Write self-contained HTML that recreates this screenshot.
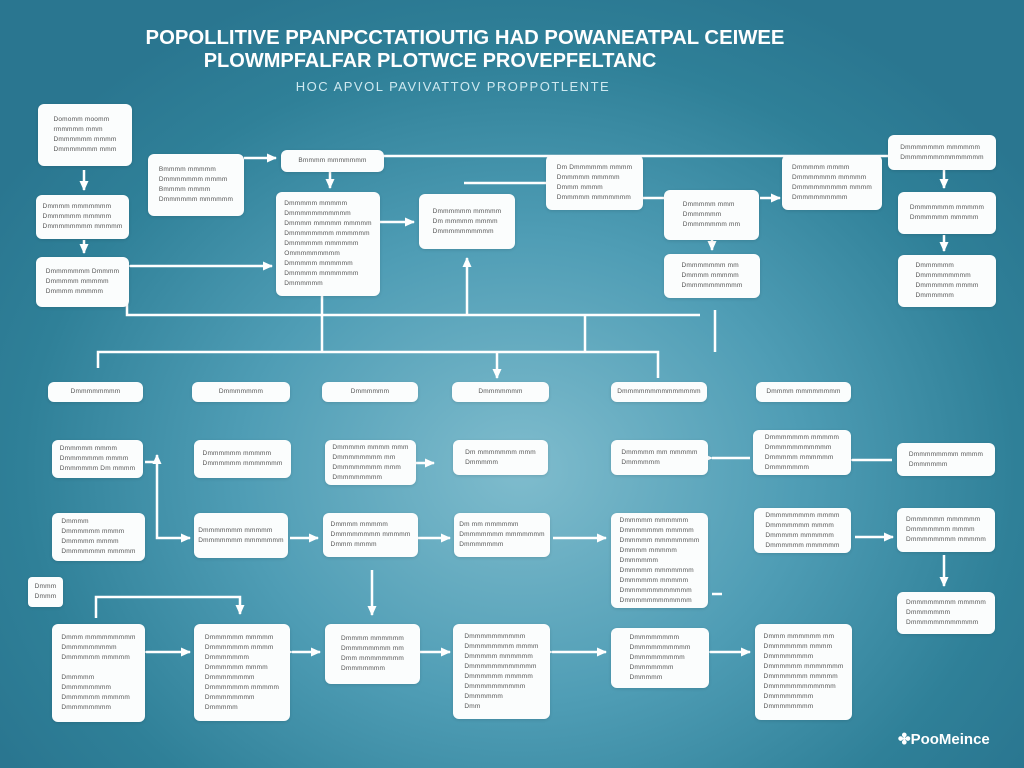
<!DOCTYPE html>
<html><head><meta charset="utf-8"><style>
body{margin:0;width:1024px;height:768px;overflow:hidden;font-family:"Liberation Sans",sans-serif;
background:radial-gradient(ellipse 620px 520px at 520px 470px,#7fbccd 0%,#4f9db5 45%,#2f8098 80%,#2a7690 100%);position:relative}
.b{position:absolute;background:#fbfdfd;border-radius:6px;display:flex;flex-direction:column;justify-content:center;align-items:center;font-size:6.5px;line-height:10px;color:#555;letter-spacing:0.2px;white-space:nowrap;box-shadow:0 1px 3px rgba(0,0,0,.12)}
.t{position:absolute;color:#fff;font-weight:bold;white-space:nowrap;text-align:center;width:1024px;left:0}
svg{position:absolute;left:0;top:0}
</style></head><body>
<div class="t" style="top:27px;font-size:20.3px;left:-47px">POPOLLITIVE PPANPCCTATIOUTIG HAD POWANEATPAL CEIWEE</div>
<div class="t" style="top:50px;font-size:20px;left:-82px">PLOWMPFALFAR PLOTWCE PROVEPFELTANC</div>
<div class="t" style="top:79px;font-size:13px;font-weight:normal;color:#cfe9f0;left:-59px;letter-spacing:1.5px">HOC APVOL PAVIVATTOV PROPPOTLENTE</div>

<svg width="1024" height="768" fill="none" stroke="#fff" stroke-width="2.5">
<defs><marker id="a" markerUnits="userSpaceOnUse" markerWidth="10" markerHeight="10" refX="9" refY="5" orient="auto"><path d="M0,0.5L10,5L0,9.5z" fill="#fff" stroke="none"/></marker></defs>
<path d="M384 156H890"/><path d="M244 158H276" marker-end="url(#a)"/>
<path d="M330 172V188" marker-end="url(#a)"/>
<path d="M464 183H600V170"/>
<path d="M380 222H414" marker-end="url(#a)"/>
<path d="M130 266H272" marker-start="url(#a)" marker-end="url(#a)"/>
<path d="M467 315V258" marker-end="url(#a)"/>
<path d="M84 170V190" marker-end="url(#a)"/>
<path d="M84 240V253" marker-end="url(#a)"/>
<path d="M643 198H664"/><path d="M760 198H780" marker-end="url(#a)"/>
<path d="M712 232V250" marker-end="url(#a)"/>
<path d="M944 170V188" marker-end="url(#a)"/>
<path d="M944 235V251" marker-end="url(#a)"/>
<path d="M127 300V315H700"/><path d="M322 296V352"/><path d="M585 315V352"/><path d="M715 310V352"/>
<path d="M98 368V352H658V378"/><path d="M497 352V378" marker-end="url(#a)"/>
<path d="M145 462H157V455" marker-end="url(#a)"/>
<path d="M157 460V538H190" marker-end="url(#a)"/>
<path d="M416 463H434" marker-end="url(#a)"/>
<path d="M290 538H318" marker-end="url(#a)"/>
<path d="M418 538H450" marker-end="url(#a)"/>
<path d="M553 538H606" marker-end="url(#a)"/>
<path d="M712 458H750" marker-start="url(#a)"/>
<path d="M852 460H892" marker-start="url(#a)"/>
<path d="M855 537H893" marker-end="url(#a)"/>
<path d="M944 555V586" marker-end="url(#a)"/>
<path d="M712 594H722"/>
<path d="M372 570V615" marker-end="url(#a)"/>
<path d="M96 618V597H240V614" marker-end="url(#a)"/>
<path d="M146 652H190" marker-start="url(#a)" marker-end="url(#a)"/>
<path d="M292 652H320" marker-start="url(#a)" marker-end="url(#a)"/>
<path d="M420 652H450" marker-start="url(#a)" marker-end="url(#a)"/>
<path d="M552 652H606" marker-start="url(#a)" marker-end="url(#a)"/>
<path d="M710 652H750" marker-start="url(#a)" marker-end="url(#a)"/>
</svg>

<div class="b" style="left:38px;top:104px;width:94px;height:62px">Domomm moomm<br>rmmmmm mmm<br>Dmmmmmm mmmm<br>Dmmmmmmm mmm</div>
<div class="b" style="left:148px;top:154px;width:96px;height:62px">Bmmmm mmmmm<br>Dmmmmmmm mmmm<br>Bmmmm mmmm<br>Dmmmmmm mmmmmm</div>
<div class="b" style="left:281px;top:150px;width:103px;height:22px">Bmmmm mmmmmmm</div>
<div class="b" style="left:276px;top:192px;width:104px;height:104px">Dmmmmm mmmmm<br>Dmmmmmmmmmmm<br>Dmmmm mmmmm mmmmm<br>Dmmmmmmmm mmmmmm<br>Dmmmmmm mmmmmm<br>Ommmmmmmmm<br>Dmmmmm mmmmmm<br>Dmmmmm mmmmmmm<br>Dmmmmmm</div>
<div class="b" style="left:36px;top:195px;width:93px;height:44px">Dmmmm mmmmmmm<br>Dmmmmmm mmmmm<br>Dmmmmmmmm mmmmm</div>
<div class="b" style="left:36px;top:257px;width:93px;height:50px">Dmmmmmmm Dmmmm<br>Dmmmmm mmmmm<br>Dmmmm mmmmm</div>
<div class="b" style="left:419px;top:194px;width:96px;height:55px">Dmmmmmm mmmmm<br>Dm mmmmm mmmm<br>Dmmmmmmmmmm</div>
<div class="b" style="left:546px;top:155px;width:97px;height:55px">Dm Dmmmmmm mmmm<br>Dmmmmm mmmmm<br>Dmmm mmmm<br>Dmmmmm mmmmmmm</div>
<div class="b" style="left:664px;top:190px;width:95px;height:50px">Dmmmmm mmm<br>Dmmmmmm<br>Dmmmmmmm mm</div>
<div class="b" style="left:664px;top:254px;width:96px;height:44px">Dmmmmmmm mm<br>Dmmmm mmmmm<br>Dmmmmmmmmmm</div>
<div class="b" style="left:782px;top:155px;width:100px;height:55px">Dmmmmm mmmm<br>Dmmmmmmm mmmmm<br>Dmmmmmmmmm mmmm<br>Dmmmmmmmmm</div>
<div class="b" style="left:888px;top:135px;width:108px;height:35px">Dmmmmmmm mmmmmm<br>Dmmmmmmmmmmmmmm</div>
<div class="b" style="left:898px;top:192px;width:98px;height:42px">Dmmmmmmm mmmmm<br>Dmmmmmm mmmmm</div>
<div class="b" style="left:898px;top:255px;width:98px;height:52px">Dmmmmmm<br>Dmmmmmmmmm<br>Dmmmmmm mmmm<br>Dmmmmmm</div>

<div class="b" style="left:48px;top:382px;width:95px;height:20px">Dmmmmmmmm</div>
<div class="b" style="left:192px;top:382px;width:98px;height:20px">Dmmmmmmm</div>
<div class="b" style="left:322px;top:382px;width:96px;height:20px">Dmmmmmm</div>
<div class="b" style="left:452px;top:382px;width:97px;height:20px">Dmmmmmmm</div>
<div class="b" style="left:611px;top:382px;width:96px;height:20px">Dmmmmmmmmmmmmmm</div>
<div class="b" style="left:756px;top:382px;width:95px;height:20px">Dmmmm mmmmmmmm</div>

<div class="b" style="left:52px;top:440px;width:91px;height:38px">Dmmmmm mmmm<br>Dmmmmmmm mmmm<br>Dmmmmmm Dm mmmm</div>
<div class="b" style="left:194px;top:440px;width:97px;height:38px">Dmmmmmm mmmmm<br>Dmmmmmm mmmmmmm</div>
<div class="b" style="left:325px;top:440px;width:91px;height:45px">Dmmmmm mmmm mmm<br>Dmmmmmmmm mm<br>Dmmmmmmmm mmm<br>Dmmmmmmmm</div>
<div class="b" style="left:453px;top:440px;width:95px;height:35px">Dm mmmmmmm mmm<br>Dmmmmm</div>
<div class="b" style="left:611px;top:440px;width:97px;height:35px">Dmmmmm mm mmmmm<br>Dmmmmmm</div>
<div class="b" style="left:753px;top:430px;width:98px;height:45px">Dmmmmmmm mmmmm<br>Dmmmmmmmmmmm<br>Dmmmmm mmmmmm<br>Dmmmmmmm</div>
<div class="b" style="left:897px;top:443px;width:98px;height:33px">Dmmmmmmmm mmmm<br>Dmmmmmm</div>

<div class="b" style="left:52px;top:513px;width:93px;height:48px">Dmmmm<br>Dmmmmmm mmmm<br>Dmmmmm mmmm<br>Dmmmmmmm mmmmm</div>
<div class="b" style="left:194px;top:513px;width:94px;height:45px">Dmmmmmmm mmmmm<br>Dmmmmmmm mmmmmmm</div>
<div class="b" style="left:323px;top:513px;width:95px;height:44px">Dmmmm mmmmm<br>Dmmmmmmmm mmmmm<br>Dmmm mmmm</div>
<div class="b" style="left:454px;top:513px;width:96px;height:44px">Dm mm mmmmmm<br>Dmmmmmmm mmmmmmm<br>Dmmmmmmm</div>
<div class="b" style="left:611px;top:513px;width:97px;height:95px">Dmmmmm mmmmmm<br>Dmmmmmmm mmmmm<br>Dmmmmm mmmmmmmm<br>Dmmmm mmmmm<br>Dmmmmmm<br>Dmmmmm mmmmmmm<br>Dmmmmmm mmmmm<br>Dmmmmmmmmmmmm<br>Dmmmmmmmmmmmm</div>
<div class="b" style="left:754px;top:508px;width:97px;height:45px">Dmmmmmmmm mmmm<br>Dmmmmmmm mmmm<br>Dmmmmm mmmmmm<br>Dmmmmmm mmmmmm</div>
<div class="b" style="left:897px;top:508px;width:98px;height:44px">Dmmmmmm mmmmmm<br>Dmmmmmmm mmmm<br>Dmmmmmmmm mmmmm</div>

<div class="b" style="left:28px;top:577px;width:35px;height:30px;border-radius:4px">Dmmm<br>Dmmm</div>
<div class="b" style="left:897px;top:592px;width:98px;height:42px">Dmmmmmmmm mmmmm<br>Dmmmmmmm<br>Dmmmmmmmmmmmm</div>

<div class="b" style="left:52px;top:624px;width:93px;height:98px">Dmmm mmmmmmmmm<br>Dmmmmmmmmm<br>Dmmmmmm mmmmm<br><br>Dmmmmm<br>Dmmmmmmmm<br>Dmmmmmm mmmmm<br>Dmmmmmmmm</div>
<div class="b" style="left:194px;top:624px;width:96px;height:97px">Dmmmmmm mmmmm<br>Dmmmmmmm mmmm<br>Dmmmmmmm<br>Dmmmmmm mmmm<br>Dmmmmmmmm<br>Dmmmmmmm mmmmm<br>Dmmmmmmmm<br>Dmmmmm</div>
<div class="b" style="left:325px;top:624px;width:95px;height:60px">Dmmmm mmmmmm<br>Dmmmmmmmm mm<br>Dmm mmmmmmmm<br>Dmmmmmmm</div>
<div class="b" style="left:453px;top:624px;width:97px;height:95px">Dmmmmmmmmmm<br>Dmmmmmmmm mmmm<br>Dmmmmm mmmmmm<br>Dmmmmmmmmmmmm<br>Dmmmmmm mmmmm<br>Dmmmmmmmmmm<br>Dmmmmmm<br>Dmm</div>
<div class="b" style="left:611px;top:628px;width:98px;height:60px">Dmmmmmmmm<br>Dmmmmmmmmmm<br>Dmmmmmmmmm<br>Dmmmmmmm<br>Dmmmmm</div>
<div class="b" style="left:755px;top:624px;width:97px;height:96px">Dmmm mmmmmm mm<br>Dmmmmmmm mmmm<br>Dmmmmmmmm<br>Dmmmmmm mmmmmmm<br>Dmmmmmmm mmmmm<br>Dmmmmmmmmmmmm<br>Dmmmmmmmm<br>Dmmmmmmmm</div>

<div style="position:absolute;left:898px;top:730px;color:#fff;font-size:15px;font-weight:bold">✤PooMeince</div>
</body></html>
